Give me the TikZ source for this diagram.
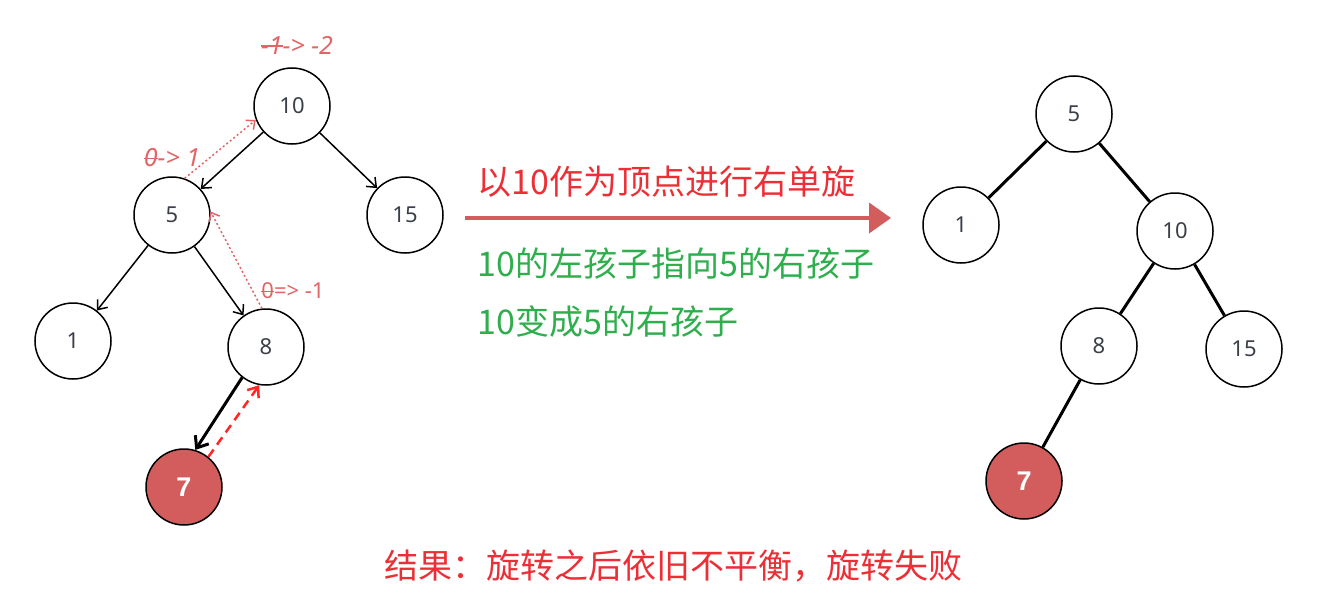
\documentclass[tikz,border=0pt]{standalone}
\usepackage{fontspec}
\setmainfont{Noto Sans}
\newfontfamily\cjk{Noto Sans CJK SC}
\newfontfamily\boldnum{Liberation Sans}
\usepackage{tikz}
\usetikzlibrary{positioning}
\usetikzlibrary{arrows.meta}
\usepackage{xcolor}

\definecolor{nodered}{HTML}{D35D5D}
\definecolor{notered}{HTML}{E26565}
\definecolor{titlered}{HTML}{EC2F36}
\definecolor{textgreen}{HTML}{2EAE4C}
\definecolor{numgray}{HTML}{3A3F48}

% old value crossed out
\newcommand\crossedval[1]{\setbox0\hbox{#1}\rlap{\rule[0.3em]{\wd0}{1.3pt}}\box0}

\tikzset{
  treenode/.style={circle, draw, line width=1.5pt, minimum size=76pt, inner sep=0pt,
    font=\fontsize{22}{22}\selectfont, text=numgray},
  hotnode/.style={treenode, fill=nodered, text=white, font=\boldnum\fontsize{27}{27}\selectfont\bfseries},
  ptr/.style={-{Straight Barb[length=8pt,width=13pt]}, line width=1.5pt},
  edge/.style={line width=3pt},
  back/.style={-{Straight Barb[length=7pt,width=12pt]}, notered, line width=1.5pt, dash pattern=on 2pt off 2.5pt},
  note/.style={notered, font=\fontsize{25}{25}\selectfont\itshape},
  cjktext/.style={font=\cjk\fontsize{34}{34}\selectfont, anchor=west}
}

\begin{document}
\begin{tikzpicture}[x=1pt, y=-1pt]
  \useasboundingbox (0,0) rectangle (1337,615);

  % left tree, before rotation
  \node[treenode] (l10) at (292,106) {10};
  \node[treenode] (l5) at (172,215) {5};
  \node[treenode] (l15) at (405,215) {15};
  \node[treenode] (l1) at (73,341) {1};
  \node[treenode] (l8) at (266,347) {8};
  \node[hotnode] (l7) at (184,487) {7};

  \draw[ptr] (l10) -- (l5);
  \draw[ptr] (l10) -- (l15);
  \draw[ptr] (l5) -- (l1);
  \draw[ptr] (l5) -- (l8);
  \draw[-{Straight Barb[length=10pt,width=16pt]}, line width=3pt] (l8.232) -- (l7.73);

  % balance factors going back up
  \draw[-{Straight Barb[length=9pt,width=14pt]}, line width=2.5pt, red!85!white, dash pattern=on 9pt off 6pt]
    (l7.51) -- (l8.260);
  \draw[back] (l8.96) -- (l5.5);
  \draw[back] (l5.71) -- (l10.201);

  \node[note] (bf10) at (297,45) {\crossedval{-1}-> -2};
  \node[note] (bf5) at (172,158) {\crossedval{0}-> 1};
  \node[note, font=\fontsize{22}{22}\selectfont] (bf8) at (293,291) {\crossedval{0}=> -1};

  % rotation arrow and notes
  \coordinate (arrs) at (465,218);
  \coordinate (arre) at (891,218);
  \draw[-{Triangle[length=22pt,width=30pt]}, line width=4pt, nodered] (arrs) -- (arre);
  \node[cjktext, text=titlered] (title) at (474,182) {以10作为顶点进行右单旋};
  \node[cjktext, text=textgreen] (step1) at (474,264) {10的左孩子指向5的右孩子};
  \node[cjktext, text=textgreen] (step2) at (474,322) {10变成5的右孩子};

  % right tree, after rotation
  \node[treenode] (r5) at (1074,114) {5};
  \node[treenode] (r1) at (961,225) {1};
  \node[treenode] (r10) at (1175,231) {10};
  \node[treenode] (r8) at (1099,346) {8};
  \node[treenode] (r15) at (1244,349) {15};
  \node[hotnode] (r7) at (1024,481) {7};

  \draw[edge] (r5) -- (r1);
  \draw[edge] (r5) -- (r10);
  \draw[edge] (r10) -- (r8);
  \draw[edge] (r10) -- (r15);
  \draw[edge] (r8) -- (r7);

  % result
  \node[font=\cjk\fontsize{34}{34}\selectfont, text=titlered] (result) at (673,566)
    {结果：旋转之后依旧不平衡，旋转失败};
\end{tikzpicture}
\end{document}
